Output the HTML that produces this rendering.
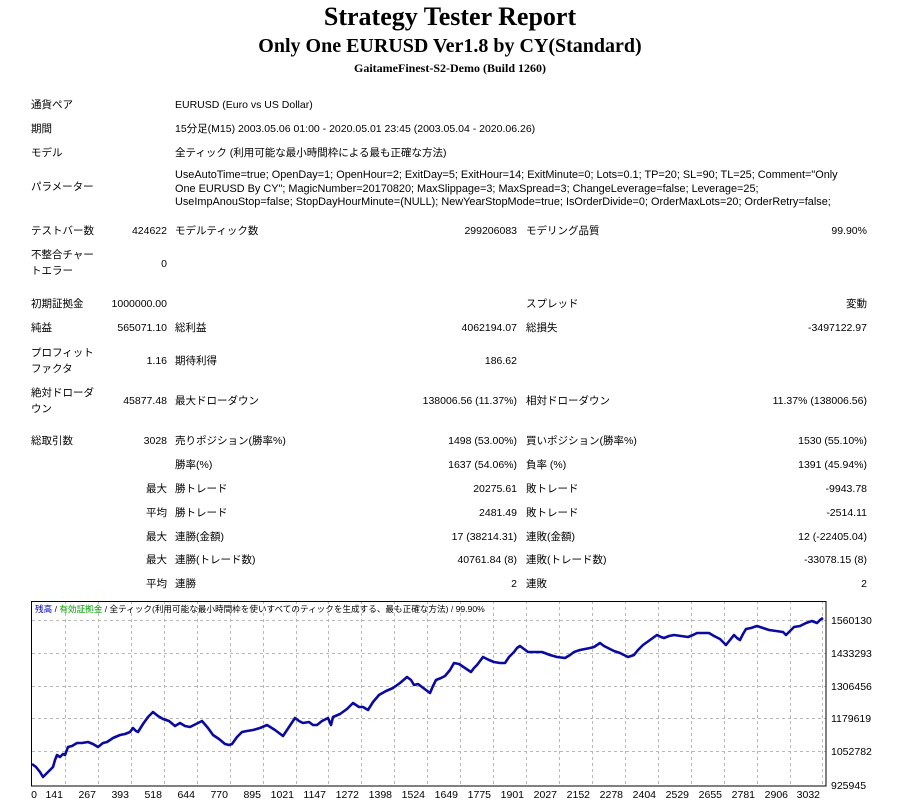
<!DOCTYPE html>
<html><head><meta charset="utf-8">
<style>
*{margin:0;padding:0}
body{width:900px;height:806px;position:relative;background:#fff;overflow:hidden;font-family:"Liberation Sans","Noto Sans CJK JP",sans-serif;font-size:10.5px;color:#000}
.t{position:absolute;left:0;width:900px;text-align:center;font-family:"Liberation Serif","Noto Serif CJK SC",serif;font-weight:bold;white-space:nowrap}
.a{position:absolute;line-height:14px;white-space:nowrap}
.r{position:absolute;line-height:14px;white-space:nowrap;text-align:right}
</style></head><body>
<div class="t" style="top:2px;font-size:26px;line-height:30px">Strategy Tester Report</div>
<div class="t" style="top:34px;font-size:20px;line-height:24px">Only One EURUSD Ver1.8 by CY(Standard)</div>
<div class="t" style="top:61px;font-size:12px;line-height:14px">GaitameFinest-S2-Demo (Build 1260)</div>

<div class="a" style="left:31px;top:98px">通貨ペア</div>
<div class="a" style="left:175px;top:98px">EURUSD (Euro vs US Dollar)</div>
<div class="a" style="left:31px;top:122px">期間</div>
<div class="a" style="left:175px;top:122px">15分足(M15) 2003.05.06 01:00 - 2020.05.01 23:45 (2003.05.04 - 2020.06.26)</div>
<div class="a" style="left:31px;top:146px">モデル</div>
<div class="a" style="left:175px;top:146px">全ティック (利用可能な最小時間枠による最も正確な方法)</div>
<div class="a" style="left:31px;top:180px">パラメーター</div>
<div class="a" style="left:175px;top:169px;line-height:13.5px;font-size:10.9px">UseAutoTime=true; OpenDay=1; OpenHour=2; ExitDay=5; ExitHour=14; ExitMinute=0; Lots=0.1; TP=20; SL=90; TL=25; Comment="Only<br>One EURUSD By CY"; MagicNumber=20170820; MaxSlippage=3; MaxSpread=3; ChangeLeverage=false; Leverage=25;<br>UseImpAnouStop=false; StopDayHourMinute=(NULL); NewYearStopMode=true; IsOrderDivide=0; OrderMaxLots=20; OrderRetry=false;</div>

<div class="a" style="left:31px;top:224px">テストバー数</div>
<div class="r" style="right:733px;top:224px">424622</div>
<div class="a" style="left:175px;top:224px">モデルティック数</div>
<div class="r" style="right:383px;top:224px">299206083</div>
<div class="a" style="left:526px;top:224px">モデリング品質</div>
<div class="r" style="right:33px;top:224px">99.90%</div>

<div class="a" style="left:31px;top:247px;line-height:16px">不整合チャー<br>トエラー</div>
<div class="r" style="right:733px;top:257px">0</div>

<div class="a" style="left:31px;top:297px">初期証拠金</div>
<div class="r" style="right:733px;top:297px">1000000.00</div>
<div class="a" style="left:526px;top:297px">スプレッド</div>
<div class="r" style="right:33px;top:297px">変動</div>

<div class="a" style="left:31px;top:321px">純益</div>
<div class="r" style="right:733px;top:321px">565071.10</div>
<div class="a" style="left:175px;top:321px">総利益</div>
<div class="r" style="right:383px;top:321px">4062194.07</div>
<div class="a" style="left:526px;top:321px">総損失</div>
<div class="r" style="right:33px;top:321px">-3497122.97</div>

<div class="a" style="left:31px;top:345px;line-height:16px">プロフィット<br>ファクタ</div>
<div class="r" style="right:733px;top:354px">1.16</div>
<div class="a" style="left:175px;top:354px">期待利得</div>
<div class="r" style="right:383px;top:354px">186.62</div>

<div class="a" style="left:31px;top:385px;line-height:16px">絶対ドローダ<br>ウン</div>
<div class="r" style="right:733px;top:394px">45877.48</div>
<div class="a" style="left:175px;top:394px">最大ドローダウン</div>
<div class="r" style="right:383px;top:394px">138006.56 (11.37%)</div>
<div class="a" style="left:526px;top:394px">相対ドローダウン</div>
<div class="r" style="right:33px;top:394px">11.37% (138006.56)</div>

<div class="a" style="left:31px;top:434px">総取引数</div>
<div class="r" style="right:733px;top:434px">3028</div>
<div class="a" style="left:175px;top:434px">売りポジション(勝率%)</div>
<div class="r" style="right:383px;top:434px">1498 (53.00%)</div>
<div class="a" style="left:526px;top:434px">買いポジション(勝率%)</div>
<div class="r" style="right:33px;top:434px">1530 (55.10%)</div>

<div class="a" style="left:175px;top:458px">勝率(%)</div>
<div class="r" style="right:383px;top:458px">1637 (54.06%)</div>
<div class="a" style="left:526px;top:458px">負率 (%)</div>
<div class="r" style="right:33px;top:458px">1391 (45.94%)</div>

<div class="r" style="right:733px;top:482px">最大</div>
<div class="a" style="left:175px;top:482px">勝トレード</div>
<div class="r" style="right:383px;top:482px">20275.61</div>
<div class="a" style="left:526px;top:482px">敗トレード</div>
<div class="r" style="right:33px;top:482px">-9943.78</div>

<div class="r" style="right:733px;top:506px">平均</div>
<div class="a" style="left:175px;top:506px">勝トレード</div>
<div class="r" style="right:383px;top:506px">2481.49</div>
<div class="a" style="left:526px;top:506px">敗トレード</div>
<div class="r" style="right:33px;top:506px">-2514.11</div>

<div class="r" style="right:733px;top:530px">最大</div>
<div class="a" style="left:175px;top:530px">連勝(金額)</div>
<div class="r" style="right:383px;top:530px">17 (38214.31)</div>
<div class="a" style="left:526px;top:530px">連敗(金額)</div>
<div class="r" style="right:33px;top:530px">12 (-22405.04)</div>

<div class="r" style="right:733px;top:553px">最大</div>
<div class="a" style="left:175px;top:553px">連勝(トレード数)</div>
<div class="r" style="right:383px;top:553px">40761.84 (8)</div>
<div class="a" style="left:526px;top:553px">連敗(トレード数)</div>
<div class="r" style="right:33px;top:553px">-33078.15 (8)</div>

<div class="r" style="right:733px;top:577px">平均</div>
<div class="a" style="left:175px;top:577px">連勝</div>
<div class="r" style="right:383px;top:577px">2</div>
<div class="a" style="left:526px;top:577px">連敗</div>
<div class="r" style="right:33px;top:577px">2</div>

<svg style="position:absolute;left:0;top:0" width="900" height="806">
<g stroke="#b8b8b8" stroke-width="1" stroke-dasharray="3,3" fill="none">
<line x1="32" y1="620.5" x2="826" y2="620.5"/>
<line x1="32" y1="653.5" x2="826" y2="653.5"/>
<line x1="32" y1="686.5" x2="826" y2="686.5"/>
<line x1="32" y1="718.5" x2="826" y2="718.5"/>
<line x1="32" y1="751.5" x2="826" y2="751.5"/>
<line x1="65.5" y1="601" x2="65.5" y2="786"/><line x1="98.5" y1="601" x2="98.5" y2="786"/><line x1="131.5" y1="601" x2="131.5" y2="786"/><line x1="164.5" y1="601" x2="164.5" y2="786"/><line x1="197.5" y1="601" x2="197.5" y2="786"/><line x1="230.5" y1="601" x2="230.5" y2="786"/><line x1="263.5" y1="601" x2="263.5" y2="786"/><line x1="296.5" y1="601" x2="296.5" y2="786"/><line x1="328.5" y1="601" x2="328.5" y2="786"/><line x1="361.5" y1="601" x2="361.5" y2="786"/><line x1="394.5" y1="601" x2="394.5" y2="786"/><line x1="427.5" y1="601" x2="427.5" y2="786"/><line x1="460.5" y1="601" x2="460.5" y2="786"/><line x1="493.5" y1="601" x2="493.5" y2="786"/><line x1="526.5" y1="601" x2="526.5" y2="786"/><line x1="559.5" y1="601" x2="559.5" y2="786"/><line x1="592.5" y1="601" x2="592.5" y2="786"/><line x1="625.5" y1="601" x2="625.5" y2="786"/><line x1="658.5" y1="601" x2="658.5" y2="786"/><line x1="691.5" y1="601" x2="691.5" y2="786"/><line x1="724.5" y1="601" x2="724.5" y2="786"/><line x1="757.5" y1="601" x2="757.5" y2="786"/><line x1="790.5" y1="601" x2="790.5" y2="786"/><line x1="822.5" y1="601" x2="822.5" y2="786"/>
</g>
<rect x="31.5" y="601.5" width="794.5" height="184.5" fill="none" stroke="#000" stroke-width="1"/>
<polyline fill="none" stroke="#0a0aa0" stroke-width="2.6" stroke-linejoin="round" points="32,764 36,767 40,772 43,777 47,773 50,770 53,767 55,760 57,755 60,757 63,754 65,755 68,747 72,746 77,743 82,743 88,742 93,744 98,747 103,743 107,742 113,738 120,735 125,734 130,732 133,728 136,731 138,732 143,724 148,717 153,712 158,716 163,719 169,721 175,726 180,723 185,726 190,727 196,724 202,721 208,728 213,735 219,739 225,744 229,745 232,744 237,737 242,732 247,731 253,730 260,728 267,725 275,730 283,736 289,727 295,718 299,721 303,723 309,722 313,725 317,725 322,721 328,718 331,725 333,717 340,714 347,709 353,703 359,707 363,707 368,710 373,702 379,695 386,691 393,688 400,683 407,677 411,680 414,685 418,684 422,687 426,690 430,693 433,686 436,680 441,678 445,676 450,670 454,663 459,664 465,668 471,672 474,668 477,665 480,661 483,657 489,660 494,662 500,663 505,663 509,657 514,652 517,648 520,646 524,649 528,652 535,652 542,652 550,655 557,657 565,658 570,655 574,652 580,650 585,649 590,648 594,647 597,645 600,643 604,646 608,648 614,651 620,653 624,655 628,657 631,656 634,655 638,650 643,645 650,640 657,635 661,637 664,638 669,636 674,635 681,636 688,637 693,635 697,633 703,633 709,633 714,636 720,639 723,642 726,645 730,640 734,635 737,638 740,640 743,634 746,629 751,628 757,626 763,628 769,630 776,631 783,632 786,635 790,631 794,627 800,626 806,623 812,621 817,623 820,620 823,618"/>
<g font-family="Liberation Sans, sans-serif" font-size="10.5" fill="#000" text-anchor="end">
<text x="37" y="798">0</text><text x="63" y="798">141</text><text x="96" y="798">267</text><text x="129" y="798">393</text><text x="162" y="798">518</text><text x="195" y="798">644</text><text x="228" y="798">770</text><text x="261" y="798">895</text><text x="294" y="798">1021</text><text x="326" y="798">1147</text><text x="359" y="798">1272</text><text x="392" y="798">1398</text><text x="425" y="798">1524</text><text x="458" y="798">1649</text><text x="491" y="798">1775</text><text x="524" y="798">1901</text><text x="557" y="798">2027</text><text x="590" y="798">2152</text><text x="623" y="798">2278</text><text x="656" y="798">2404</text><text x="689" y="798">2529</text><text x="722" y="798">2655</text><text x="755" y="798">2781</text><text x="788" y="798">2906</text><text x="820" y="798">3032</text>
</g>
<g font-family="Liberation Sans, sans-serif" font-size="10.5" fill="#000">
<text x="831" y="624">1560130</text><text x="831" y="657">1433293</text><text x="831" y="690">1306456</text><text x="831" y="722">1179619</text><text x="831" y="755">1052782</text><text x="831" y="789">925945</text>
</g>
<text x="35" y="612" font-family="Liberation Sans, Noto Sans CJK JP, sans-serif" font-size="8.6"><tspan fill="#0000c0">残高</tspan> / <tspan fill="#00a000">有効証拠金</tspan> / 全ティック(利用可能な最小時間枠を使いすべてのティックを生成する、最も正確な方法) / 99.90%</text>
</svg>
</body></html>
